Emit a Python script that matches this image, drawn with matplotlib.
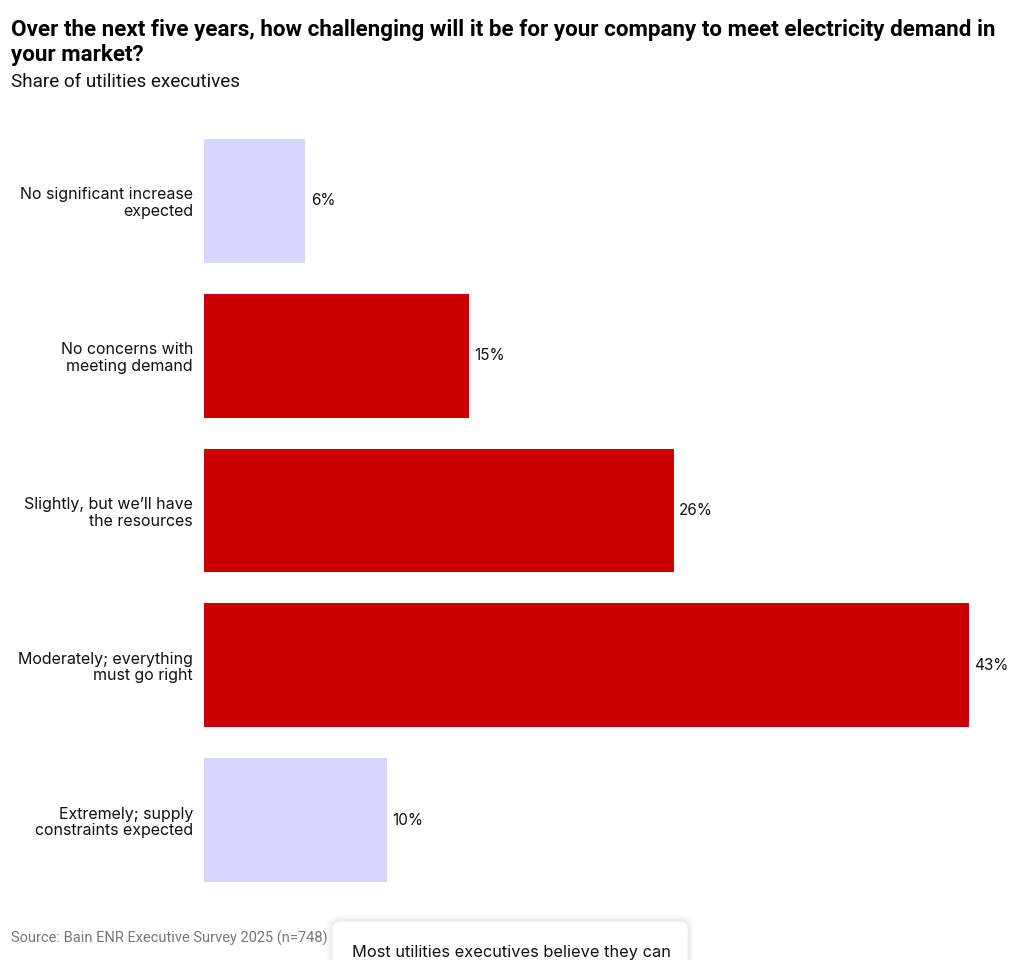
import matplotlib
matplotlib.use("Agg")
import matplotlib.pyplot as plt
from matplotlib.patches import FancyBboxPatch

categories = [
    "No significant increase\nexpected",
    "No concerns with\nmeeting demand",
    "Slightly, but we\u2019ll have\nthe resources",
    "Moderately; everything\nmust go right",
    "Extremely; supply\nconstraints expected",
]
# bar lengths (labels are rounded)
values = [5.7, 14.9, 26.4, 43.0, 10.3]
value_labels = ["6%", "15%", "26%", "43%", "10%"]
highlight = [False, True, True, True, False]

RED = "#CC0000"
LAV = "#D5D7FE"

plt.rcParams["font.family"] = ["Inter", "DejaVu Sans"]

W, H = 1020, 960
fig = plt.figure(figsize=(W / 100, H / 100), dpi=100)

ax = fig.add_axes([204 / W, (H - 897.5) / H, 765 / W, 774 / H])
ypos = list(range(len(categories)))
colors = [RED if h else LAV for h in highlight]
ax.barh(ypos, values, height=0.8, color=colors)
ax.set_xlim(0, 43)
ax.set_ylim(4.5, -0.5)
ax.set_yticks(ypos)
ax.set_yticklabels(categories, fontsize=11.5, color="#111111", ha="right", linespacing=1.13)
ax.tick_params(axis="y", length=0, pad=8)
ax.set_xticks([])
for s in ax.spines.values():
    s.set_visible(False)
for y, v, lab in zip(ypos, values, value_labels):
    ax.text(v + 0.3, y, lab, va="center", ha="left", fontsize=11, color="#111111", clip_on=False)

fig.text(11 / W, 1 - 42.5 / H, "Over the next five years, how challenging will it be for your company to meet electricity demand in\nyour market?",
         fontsize=16.1, fontweight="bold", family=["Roboto", "DejaVu Sans"], va="center", ha="left",
         linespacing=1.22, color="#000000")
fig.text(11 / W, 1 - 82 / H, "Share of utilities executives", fontsize=13.6, va="center", ha="left",
         family=["Roboto", "DejaVu Sans"], color="#111111")
fig.text(11 / W, 1 - 938.5 / H, "Source: Bain ENR Executive Survey 2025 (n=748)", fontsize=10.5,
         family=["Roboto", "DejaVu Sans"], color="#777777", va="center", ha="left")

# popup box (soft shadow + box)
for off, alpha in [(6, 0.015), (4, 0.025), (2, 0.035)]:
    sh = FancyBboxPatch(((332 - off) / W, (H - 975) / H), (356 + 2 * off) / W, (975 - 921 + off) / H,
                        boxstyle="round,pad=0,rounding_size=0.012", transform=fig.transFigure,
                        facecolor="black", edgecolor="none", alpha=alpha)
    fig.patches.append(sh)
box = FancyBboxPatch((332 / W, (H - 975) / H), 356 / W, (975 - 921) / H,
                     boxstyle="round,pad=0,rounding_size=0.01", transform=fig.transFigure,
                     facecolor="white", edgecolor="#efefef", linewidth=0.6)
fig.patches.append(box)
fig.text(352 / W, 1 - 952 / H, "Most utilities executives believe they can", fontsize=11.8,
         va="center", ha="left", color="#111111")

fig.savefig("out.png", dpi=100)
